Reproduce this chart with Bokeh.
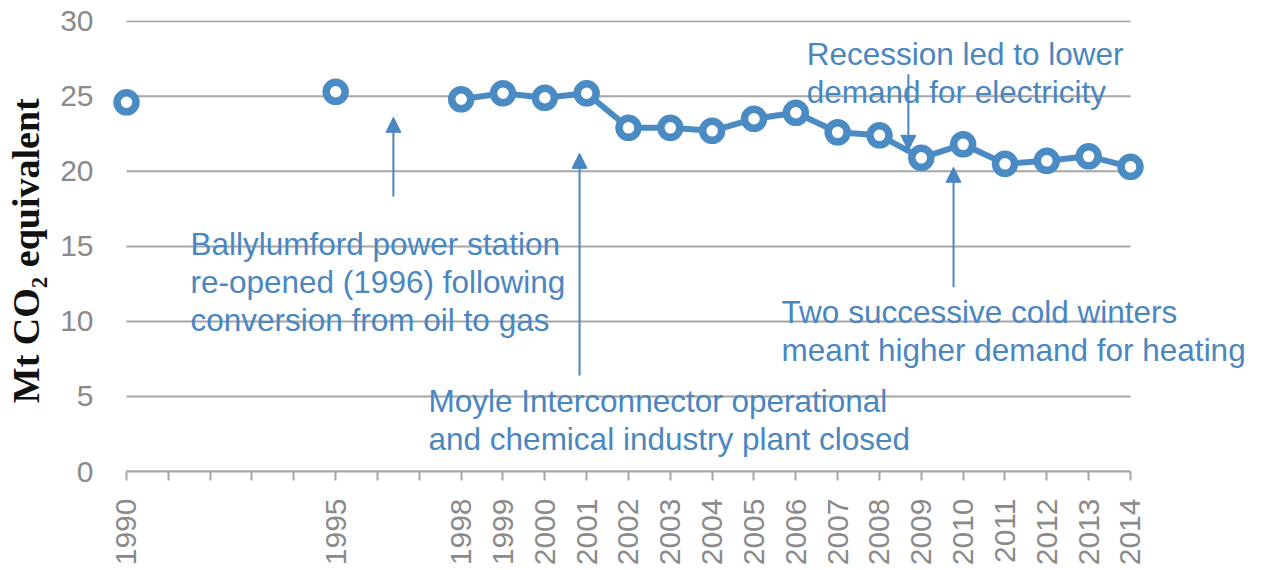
import math
from bokeh.plotting import figure
from bokeh.models import Range1d, FixedTicker, Arrow, NormalHead
from bokeh.core.properties import value
from bokeh.embed import file_html
from bokeh.resources import INLINE

# ---- data ----
years = [1990, 1995, 1998, 1999, 2000, 2001, 2002, 2003, 2004, 2005, 2006,
         2007, 2008, 2009, 2010, 2011, 2012, 2013, 2014]
emissions = [24.6, 25.3, 24.8, 25.2, 24.9, 25.2, 22.9, 22.9, 22.7, 23.5, 23.9,
             22.6, 22.4, 20.9, 21.8, 20.5, 20.7, 21.0, 20.3]
line_years = years[2:]
line_emissions = emissions[2:]
y_ticks = [0, 5, 10, 15, 20, 25, 30]
all_years = list(range(1990, 2015))

notes = [
    "Ballylumford power station", "re-opened (1996) following", "conversion from oil to gas",
    "Recession led to lower", "demand for electricity",
    "Two successive cold winters", "meant higher demand for heating",
    "Moyle Interconnector operational", "and chemical industry plant closed",
]
note_x = [1991.53, 1991.53, 1991.53, 2006.26, 2006.26, 2005.66, 2005.66, 1997.22, 1997.22]
note_y = [15.15, 12.62, 10.09, 27.82, 25.29, 10.62, 8.09, 4.69, 2.15]

arrow_x = [1996.38, 2008.69, 2009.77, 2000.83]
arrow_y_start = [18.33, 26.47, 12.27, 6.4]
arrow_y_end = [23.6, 21.4, 20.27, 21.2]

BLUE = "#4a8bc4"
TXT_BLUE = "#4a86c0"
GREY = "#a6a6a6"
LBL_GREY = "#8a8a8a"

first_year, last_year = all_years[0], all_years[-1]

p = figure(width=1262, height=570, output_backend="svg", toolbar_location=None,
           x_range=Range1d(1989.522, 2017.036), y_range=Range1d(0, 30.05),
           min_border_left=106, min_border_right=5, min_border_top=20, min_border_bottom=99)
p.outline_line_color = None
p.background_fill_color = "white"

# grid (limited to the axis extent)
p.xgrid.visible = False
p.ygrid.visible = False
p.segment(x0=[first_year] * len(y_ticks), x1=[last_year] * len(y_ticks),
          y0=y_ticks, y1=y_ticks, line_color=GREY, line_width=2, level="underlay")

# x axis
p.xaxis.ticker = FixedTicker(ticks=all_years)
p.xaxis.major_label_overrides = {yr: (str(yr) if yr in years else "") for yr in all_years}
p.xaxis.bounds = (first_year, last_year)
p.xaxis.axis_line_color = GREY
p.xaxis.axis_line_width = 2
p.xaxis.major_tick_line_color = GREY
p.xaxis.major_tick_line_width = 2
p.xaxis.major_tick_out = 9
p.xaxis.major_tick_in = 0
p.xaxis.minor_tick_line_color = None
p.xaxis.major_label_orientation = math.pi / 2
p.xaxis.major_label_standoff = 18
p.xaxis.major_label_text_font = "Liberation Sans"
p.xaxis.major_label_text_font_size = "30px"
p.xaxis.major_label_text_color = LBL_GREY

# y axis
p.yaxis.ticker = FixedTicker(ticks=y_ticks)
p.yaxis.axis_line_color = None
p.yaxis.major_tick_line_color = None
p.yaxis.minor_tick_line_color = None
p.yaxis.major_label_standoff = 7
p.yaxis.major_label_text_font = "Liberation Sans"
p.yaxis.major_label_text_font_size = "30px"
p.yaxis.major_label_text_color = LBL_GREY
p.yaxis.axis_label = "Mt CO\u2082  equivalent"
p.yaxis.axis_label_text_font = "Liberation Serif"
p.yaxis.axis_label_text_font_style = "bold"
p.yaxis.axis_label_text_font_size = "38px"
p.yaxis.axis_label_text_color = "#111111"
p.yaxis.axis_label_standoff = 10

# series
p.line(line_years, line_emissions, line_color=BLUE, line_width=6)
p.scatter(years, emissions, marker="circle", size=19, line_width=7.5,
          line_color=BLUE, fill_color="white")

# annotations
p.text(x=note_x, y=note_y, text=notes, text_font=value("Liberation Sans"),
       text_font_size="31.5px", text_color=TXT_BLUE, text_align="left",
       text_baseline="alphabetic")

for ax, ys, ye in zip(arrow_x, arrow_y_start, arrow_y_end):
    p.add_layout(Arrow(x_start=ax, y_start=ys, x_end=ax, y_end=ye,
                       line_color=TXT_BLUE, line_width=2,
                       end=NormalHead(size=15, fill_color=TXT_BLUE, line_color=TXT_BLUE)))

open("out.html", "w").write(file_html(p, INLINE))
